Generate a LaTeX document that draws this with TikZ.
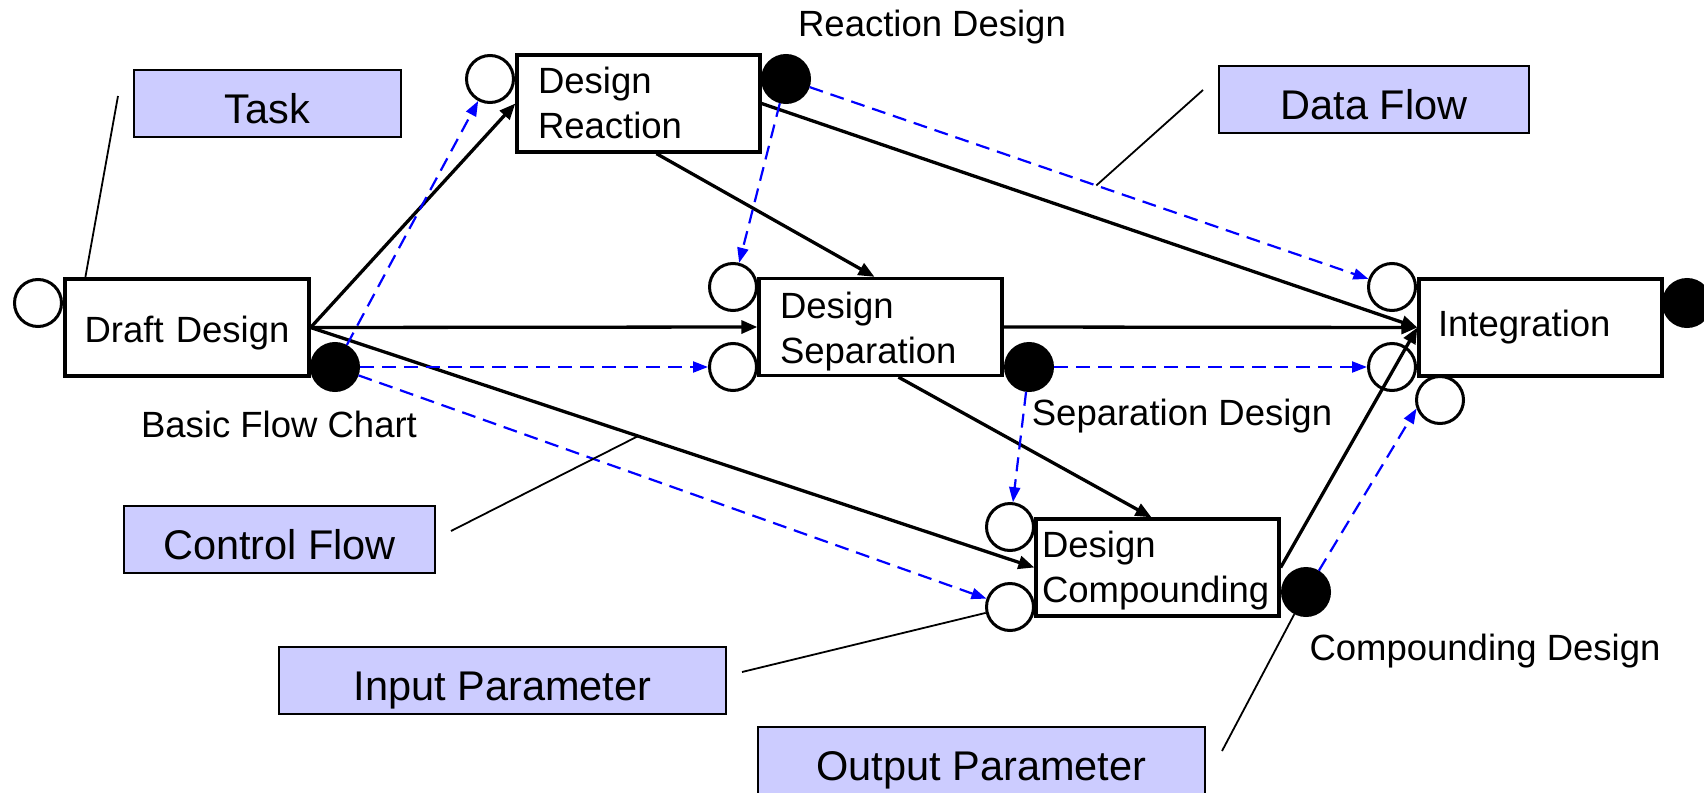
\documentclass[tikz,border=0pt]{standalone}
\usepackage{fontspec}
\setmainfont{Liberation Sans}
\usetikzlibrary{arrows.meta,calc}
\definecolor{lav}{RGB}{204,204,255}
\definecolor{dblue}{RGB}{0,0,255}
\newcommand\mysmallfont{\fontsize{36.5}{45}\selectfont}
\newcommand\mybigfont{\fontsize{41.5}{50}\selectfont}
\newcommand\mylower[2]{\raisebox{-#1}[\height][\depth]{#2}}
\begin{document}
\begin{tikzpicture}[x=1pt,y=-1pt,
  procbox/.style={draw, line width=3.3pt, fill=white, minimum height=97pt,
    inner ysep=0pt, font=\mysmallfont},
  legend/.style={draw, line width=2.5pt, fill=lav, font=\mybigfont,
    text height=39pt, text depth=0pt, inner sep=0pt, minimum height=67pt,
    minimum width=#1},
  inport/.style={circle, draw, line width=3pt, fill=white, minimum size=47pt, inner sep=0pt},
  outport/.style={circle, draw, line width=3pt, fill=black, minimum size=47pt, inner sep=0pt},
  plainlabel/.style={font=\mysmallfont, inner sep=0pt, anchor=base},
  ctrl/.style={line width=3.3pt, -{Triangle[length=16pt,width=13pt]}},
  data/.style={draw=dblue, line width=2.2pt, dash pattern=on 14pt off 8pt,
    -{Triangle[length=15pt,width=11pt]}, dblue},
  pointer/.style={line width=1.8pt}
]
\useasboundingbox (0,0) rectangle (1704,792);

% task boxes
\node[procbox, text width=208pt, inner xsep=18pt, align=center] (draft) at (187,327.5) {\mylower{6pt}{Draft Design}};
\node[procbox, text width=201pt, inner xsep=21pt, align=left] (react) at (638.5,103.5) {\mylower{-1pt}{Design}\\\mylower{-1pt}{Reaction}};
\node[procbox, text width=201pt, inner xsep=21pt, align=left] (sep) at (880.5,327) {\mylower{5pt}{Design}\\\mylower{5pt}{Separation}};
\node[procbox, text width=231pt, inner xsep=6pt, align=left] (comp) at (1157.5,567.5) {\mylower{3pt}{Design}\\\mylower{3pt}{Compounding}};
\node[procbox, text width=205pt, inner xsep=19pt, align=left] (integ) at (1540.5,327.5) {Integration};

% parameters
\node[inport] (din) at (38,303) {};
\node[outport] (dout) at (335,367) {};
\node[inport] (rin) at (490,79) {};
\node[outport] (rout) at (786,79) {};
\node[inport] (sin1) at (733,287) {};
\node[inport] (sin2) at (733,367) {};
\node[outport] (sout) at (1029,367) {};
\node[inport] (cin1) at (1010,527) {};
\node[inport] (cin2) at (1010,607) {};
\node[outport] (cout) at (1306,592) {};
\node[inport] (iin1) at (1392,287) {};
\node[inport] (iin2) at (1392,367) {};
\node[inport] (iin3) at (1440,400) {};
\node[outport] (iout) at (1687,303) {};

% data labels
\node[plainlabel] (lreact) at (932,37) {Reaction Design};
\node[plainlabel] (lbasic) at (279,437) {Basic Flow Chart};
\node[plainlabel] (lsep) at (1182,425) {Separation Design};
\node[plainlabel] (lcomp) at (1485,660) {Compounding Design};

% legend boxes
\node[legend=267pt] (task) at (267.5,103.5) {Task};
\node[legend=310pt] (dflow) at (1374,99.5) {Data Flow};
\node[legend=311pt] (cflow) at (279.5,539.5) {Control Flow};
\node[legend=447pt] (inpar) at (502.5,680.5) {Input Parameter};
\node[legend=447pt] (outpar) at (981.5,760.5) {Output Parameter};

% control flow
\draw[ctrl] (draft.east) -- (react.west);
\draw[ctrl] (draft.east) -- (sep.west);
\draw[ctrl] (draft.east) -- (comp.west);
\draw[ctrl] ($(react.south)+(18,0)$) -- ($(sep.north)+(-6,0)$);
\draw[ctrl] (react.east) -- (integ.west);
\draw[ctrl] (sep.east) -- (integ.west);
\draw[ctrl] ($(sep.south)+(18,0)$) -- ($(comp.north)+(-6,0)$);
\draw[ctrl] (comp.east) -- (integ.west);

% data flow
\draw[data] (dout) -- (rin);
\draw[data] (dout) -- (sin2);
\draw[data] (dout) -- (cin2);
\draw[data] (rout) -- (sin1);
\draw[data] (rout) -- (iin1);
\draw[data] (sout) -- (iin2);
\draw[data] (sout) -- (cin1);
\draw[data] (cout) -- (iin3.200);

% legend pointers
\coordinate (taskp) at (118,96);
\coordinate (dflowp) at (1203,90);
\coordinate (cflowp) at (451,531);
\coordinate (inparp) at (742,672);
\coordinate (outparp) at (1222,751);
\draw[pointer] (taskp) -- ($(draft.north west)+(22,0)$);
\draw[pointer] (dflowp) -- ($(rout)!0.512!(iin1)$);
\draw[pointer] (cflowp) -- ($(draft.east)!0.4525!(comp.west)$);
\draw[pointer] (inparp) -- (cin2);
\draw[pointer] (outparp) -- (cout);
\end{tikzpicture}
\end{document}
